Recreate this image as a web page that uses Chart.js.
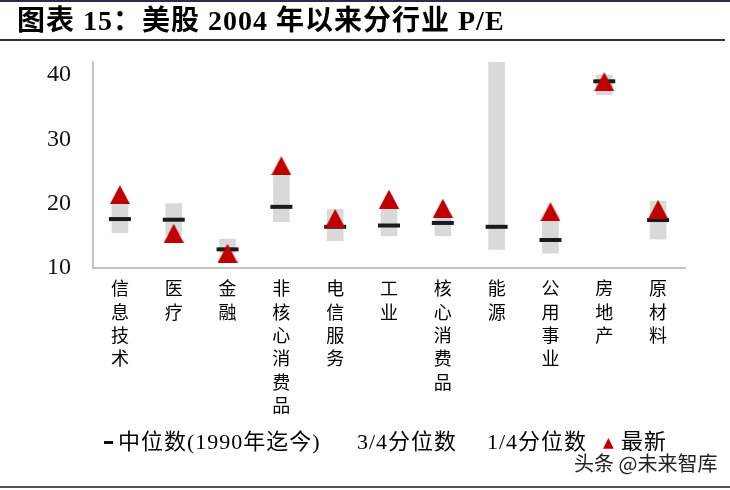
<!DOCTYPE html>
<html>
<head>
<meta charset="utf-8">
<script src="https://cdn.jsdelivr.net/npm/chart.js@4/dist/chart.umd.min.js"></script>
<style>
  html, body { margin:0; padding:0; background:#fff; }
  body { width:730px; height:490px; position:relative; overflow:hidden; }
  #c { position:absolute; left:0; top:0; }
  .ov { position:absolute; white-space:nowrap; color:#000; }
  .serif { font-family:"Liberation Serif","Noto Sans CJK SC",serif; }
</style>
</head>
<body>
<canvas id="c" width="730" height="490"></canvas>
<div class="ov" style="left:0;top:0;width:730px;height:2px;background:#2b2b4a"></div>
<div class="ov serif" style="left:17px;top:4px;font-size:28px;font-weight:bold;line-height:34px;letter-spacing:1px">图表 15：美股 2004 年以来分行业 P/E</div>
<div class="ov" style="left:0;top:39px;width:725px;height:2px;background:#333"></div>

<div class="ov" style="left:104px;top:441px;width:9px;height:3px;background:#111"></div>
<div class="ov serif" style="left:118px;top:430px;font-size:22px;line-height:24px;letter-spacing:1px">中位数(1990年迄今)</div>
<div class="ov serif" style="left:357px;top:430px;font-size:22px;line-height:24px;letter-spacing:1px">3/4分位数</div>
<div class="ov serif" style="left:487px;top:430px;font-size:22px;line-height:24px;letter-spacing:1px">1/4分位数</div>
<div class="ov" style="left:603px;top:434px;font-size:14px;line-height:16px;color:#c00000;font-family:'DejaVu Sans'">▲</div>
<div class="ov serif" style="left:621px;top:430px;font-size:22px;line-height:24px;letter-spacing:1px">最新</div>
<div class="ov" style="left:574px;top:451px;font-size:20px;line-height:24px;color:#222;font-family:'Noto Sans CJK SC',sans-serif">头条 @未来智库</div>
<div class="ov" style="left:0;top:486px;width:730px;height:2px;background:#555"></div>

<script>
const categories = ['信息技术','医疗','金融','非核心消费品','电信服务','工业','核心消费品','能源','公用事业','房地产','原材料'];
const q1Values     = [15.5, 15.2, 12.4, 17.2, 14.25, 15.0, 15.0, 12.9, 12.3, 36.9, 14.5];
const q3Values     = [20.0, 20.0, 14.5, 24.5, 19.1, 19.3, 18.3, 42.0, 17.3, 40.0, 20.4];
const medianValues = [17.6, 17.5, 12.9, 19.5, 16.4, 16.6, 17.0, 16.4, 14.35, 39.0, 17.45];
const latestValues = [21.4, 15.4, 12.3, 25.9, 17.7, 20.7, 19.3, null, 18.75, 38.95, 19.1];
const yTicks = [10, 20, 30, 40];

// triangle marker centred on its bounding box
const tri = document.createElement('canvas');
tri.width = 20; tri.height = 19;
const tctx = tri.getContext('2d');
tctx.fillStyle = '#c00000';
tctx.beginPath(); tctx.moveTo(10, 0); tctx.lineTo(20, 19); tctx.lineTo(0, 19); tctx.closePath(); tctx.fill();

new Chart(document.getElementById('c'), {
  type: 'bar',
  data: {
    labels: categories.map(c => c.split('')),
    datasets: [
      {
        type: 'line', label: '最新', data: latestValues, showLine: false,
        pointStyle: tri, pointRadius: 10, pointHoverRadius: 10, order: 0
      },
      {
        type: 'line', label: '中位数(1990年迄今)', data: medianValues, showLine: false,
        pointStyle: 'line', pointRadius: 11, pointHoverRadius: 11,
        borderColor: '#1a1a1a', pointBorderWidth: 4, pointHoverBorderWidth: 4, order: 1
      },
      {
        type: 'bar', label: '3/4分位数', data: q1Values.map((v, i) => [v, q3Values[i]]),
        backgroundColor: '#d9d9d9', borderWidth: 0, borderSkipped: false,
        barThickness: 16, order: 2
      }
    ]
  },
  options: {
    responsive: false,
    animation: false,
    devicePixelRatio: 1,
    layout: { padding: { left: 0, right: 45, top: 62, bottom: 62 } },
    plugins: { legend: { display: false }, tooltip: { enabled: false } },
    scales: {
      x: {
        grid: { display: false, drawTicks: false },
        border: { display: true, color: '#c3c3c3', width: 2 },
        afterFit: s => { s.height = 160; },
        ticks: {
          autoSkip: false, maxRotation: 0, minRotation: 0, padding: 9,
          color: '#000',
          font: { family: '"Noto Sans CJK SC", sans-serif', size: 18, lineHeight: 23.3 / 18 }
        }
      },
      y: {
        min: 10, max: 42,
        grid: { display: false, drawTicks: false },
        border: { display: true, color: '#c3c3c3', width: 2 },
        afterFit: s => { s.width = 93; },
        afterBuildTicks: s => { s.ticks = yTicks.map(v => ({ value: v })); },
        ticks: {
          padding: 22, color: '#111',
          font: { family: '"Liberation Serif", serif', size: 24 }
        }
      }
    }
  }
});
</script>
</body>
</html>
